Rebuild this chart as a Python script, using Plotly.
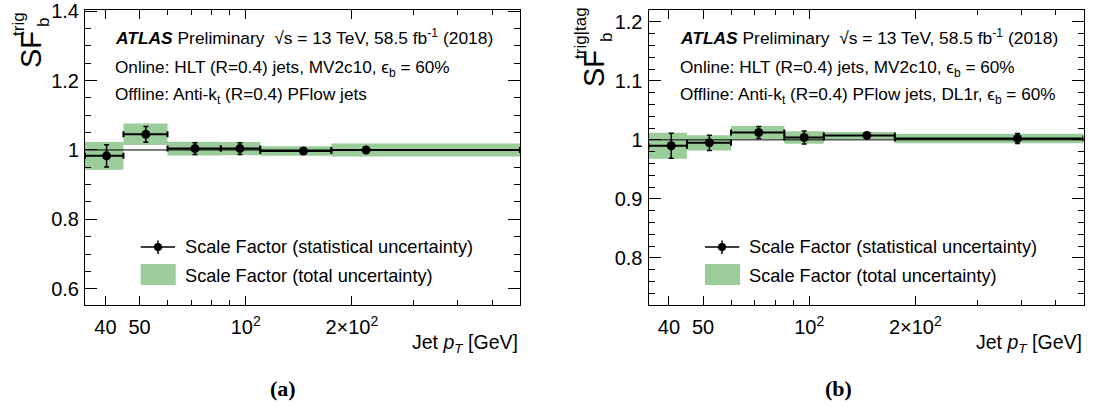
import plotly.graph_objects as go

W, H = 1093, 407

# ---------------- data ----------------
bin_lo = [35, 45, 60, 85, 110, 175]
bin_hi = [45, 60, 85, 110, 175, 600]

a_x = [40.3, 52.1, 71.8, 96.3, 145.8, 219.6]
a_sf = [0.983, 1.045, 1.004, 1.004, 0.997, 1.000]
a_stat = [0.032, 0.023, 0.017, 0.017, 0.005, 0.008]
a_tot = [0.040, 0.031, 0.020, 0.019, 0.014, 0.019]

b_x = [40.6, 52.1, 71.9, 96.8, 145.8, 390.0]
b_sf = [0.990, 0.995, 1.0125, 1.004, 1.0075, 1.0024]
b_stat = [0.021, 0.013, 0.010, 0.011, 0.003, 0.0085]
b_tot = [0.022, 0.013, 0.011, 0.0105, 0.006, 0.008]

x_tickvals = [40, 50, 100, 200]
x_ticktext = ["40", "50", "10<sup>2</sup>", "2×10<sup>2</sup>"]
x_minor = [60, 70, 80, 90, 300, 400, 500]

a_yticks = [0.6, 0.8, 1.0, 1.2, 1.4]
a_yticktext = ["0.6", "0.8", "1", "1.2", "1.4"]
b_yticks = [0.8, 0.9, 1.0, 1.1, 1.2]
b_yticktext = ["0.8", "0.9", "1", "1.1", "1.2"]

GREEN = "rgb(154,205,154)"
FONT = "Liberation Sans, Arial, sans-serif"


def px(x):
    return x / W


def py(y):
    return 1 - y / H


fig = go.Figure()

def add_panel(xa, ya, xs, sf, stat, tot):
    bx, by = [], []
    for lo, hi, s, t in zip(bin_lo, bin_hi, sf, tot):
        bx += [lo, hi, hi, lo, lo, None]
        by += [s - t, s - t, s + t, s + t, s - t, None]
    fig.add_trace(go.Scatter(x=bx, y=by, mode="lines", fill="toself",
                             fillcolor=GREEN, line=dict(width=0),
                             xaxis=xa, yaxis=ya, showlegend=False, hoverinfo="skip"))
    fig.add_trace(go.Scatter(
        x=xs, y=sf, mode="markers",
        marker=dict(color="black", size=9),
        error_x=dict(type="data", symmetric=False,
                     array=[h - x for h, x in zip(bin_hi, xs)],
                     arrayminus=[x - l for l, x in zip(bin_lo, xs)],
                     color="black", thickness=2, width=3),
        error_y=dict(type="data", array=stat, color="black", thickness=1.5, width=2.5),
        xaxis=xa, yaxis=ya, showlegend=False))

add_panel("x", "y", a_x, a_sf, a_stat, a_tot)
add_panel("x2", "y2", b_x, b_sf, b_stat, b_tot)

ydom = [py(305), py(9.5)]
common_x = dict(type="log", range=[1.5441, 2.7782], showgrid=False, zeroline=False,
                showline=True, linecolor="black", linewidth=1, mirror="ticks",
                ticks="inside", ticklen=9, tickcolor="black", automargin=False,
                tickmode="array", tickvals=x_tickvals, ticktext=x_ticktext,
                tickfont=dict(family=FONT, size=20, color="black"),
                ticklabelstandoff=4,
                minor=dict(ticks="inside", ticklen=5, tickcolor="black",
                           tickmode="array", tickvals=x_minor))
common_y = dict(showgrid=False, zeroline=False, showline=True, linecolor="black",
                linewidth=1, mirror="ticks", ticks="inside", ticklen=12, tickcolor="black",
                tickmode="array", tickfont=dict(family=FONT, size=20, color="black"),
                ticklabelstandoff=1, automargin=False)

fig.update_layout(
    width=W, height=H, margin=dict(l=0, r=0, t=0, b=0, autoexpand=False),
    paper_bgcolor="white", plot_bgcolor="white",
    font=dict(family=FONT, color="black"),
    xaxis=dict(domain=[px(85), px(520)], anchor="y", **common_x),
    xaxis2=dict(domain=[px(648.5), px(1083.5)], anchor="y2", **common_x),
    yaxis=dict(domain=ydom, anchor="x", range=[0.553, 1.405],
               tickvals=a_yticks, ticktext=a_yticktext,
               minor=dict(ticks="inside", ticklen=6, tickcolor="black", dtick=0.05, tick0=0),
               **common_y),
    yaxis2=dict(domain=ydom, anchor="x2", range=[0.72, 1.221],
                tickvals=b_yticks, ticktext=b_yticktext,
                minor=dict(ticks="inside", ticklen=6, tickcolor="black", dtick=0.02, tick0=0),
                **common_y),
)

shapes = []
# reference line at 1
for xr, yr in [("x domain", "y"), ("x2 domain", "y2")]:
    shapes.append(dict(type="line", xref=xr, yref=yr, x0=0, x1=1, y0=1, y1=1,
                       line=dict(color="black", width=1)))

annots = []

def txt(x, y, text, size, xanchor="left", yanchor="middle", **kw):
    annots.append(dict(x=px(x), y=py(y), xref="paper", yref="paper", text=text,
                       showarrow=False, xanchor=xanchor, yanchor=yanchor,
                       font=dict(family=kw.pop("family", FONT), size=size, color="black"), **kw))

for (lx0, lx1, mx, tx, bx0, bx1, atx, line3, xtitle_r, lab, labx) in [
    (140.7, 175, 158, 183, 140.7, 175.7, 113,
     "Offline: Anti-k<sub>t</sub> (R=0.4) PFlow jets", 520, "(a)", 283),
    (705, 739.3, 722, 747, 705, 740, 678,
     "Offline: Anti-k<sub>t</sub> (R=0.4) PFlow jets, DL1r, ϵ<sub>b</sub> = 60%", 1083.5, "(b)", 838),
]:
    # legend: stat marker
    shapes.append(dict(type="line", xref="paper", yref="paper", x0=px(lx0), x1=px(lx1),
                       y0=py(247), y1=py(247), line=dict(color="black", width=1.5)))
    shapes.append(dict(type="line", xref="paper", yref="paper", x0=px(mx), x1=px(mx),
                       y0=py(240.5), y1=py(254), line=dict(color="black", width=1.5)))
    shapes.append(dict(type="circle", xref="paper", yref="paper", x0=px(mx - 4), x1=px(mx + 4),
                       y0=py(251), y1=py(243), fillcolor="black", line=dict(color="black", width=0)))
    shapes.append(dict(type="rect", xref="paper", yref="paper", x0=px(bx0), x1=px(bx1),
                       y0=py(285), y1=py(264), fillcolor=GREEN, line=dict(width=0)))
    txt(tx, 247, "Scale Factor (statistical uncertainty)", 18.2)
    txt(tx, 276, "Scale Factor (total uncertainty)", 18.2)
    # ATLAS labels
    txt(atx, 37, "<b><i>ATLAS</i></b> Preliminary  √s = 13 TeV, 58.5 fb<sup>-1</sup> (2018)", 17.4)
    txt(atx, 68, "Online: HLT (R=0.4) jets, MV2c10, ϵ<sub>b</sub> = 60%", 17.2)
    txt(atx, 95, line3, 17.2)
    # x title
    txt(xtitle_r, 343, "Jet <i>p</i><sub><i>T</i></sub> [GeV]", 19.5, xanchor="right")
    # panel label
    txt(labx, 388, "<b>" + lab + "</b>", 22, xanchor="center", family="Liberation Serif, Times New Roman, serif")

# y axis titles (rotated)
txt(31, 50, "SF", 29, xanchor="center", textangle=-90)
txt(18, 24, "trig", 17, xanchor="center", textangle=-90)
txt(44, 23, "b", 17, xanchor="center", textangle=-90)

txt(594, 69, "SF", 29, xanchor="center", textangle=-90)
txt(580, 33, "trig|tag", 17, xanchor="center", textangle=-90)
txt(606, 38, "b", 17, xanchor="center", textangle=-90)

fig.update_layout(shapes=shapes, annotations=annots)
fig.write_html("out.html")
